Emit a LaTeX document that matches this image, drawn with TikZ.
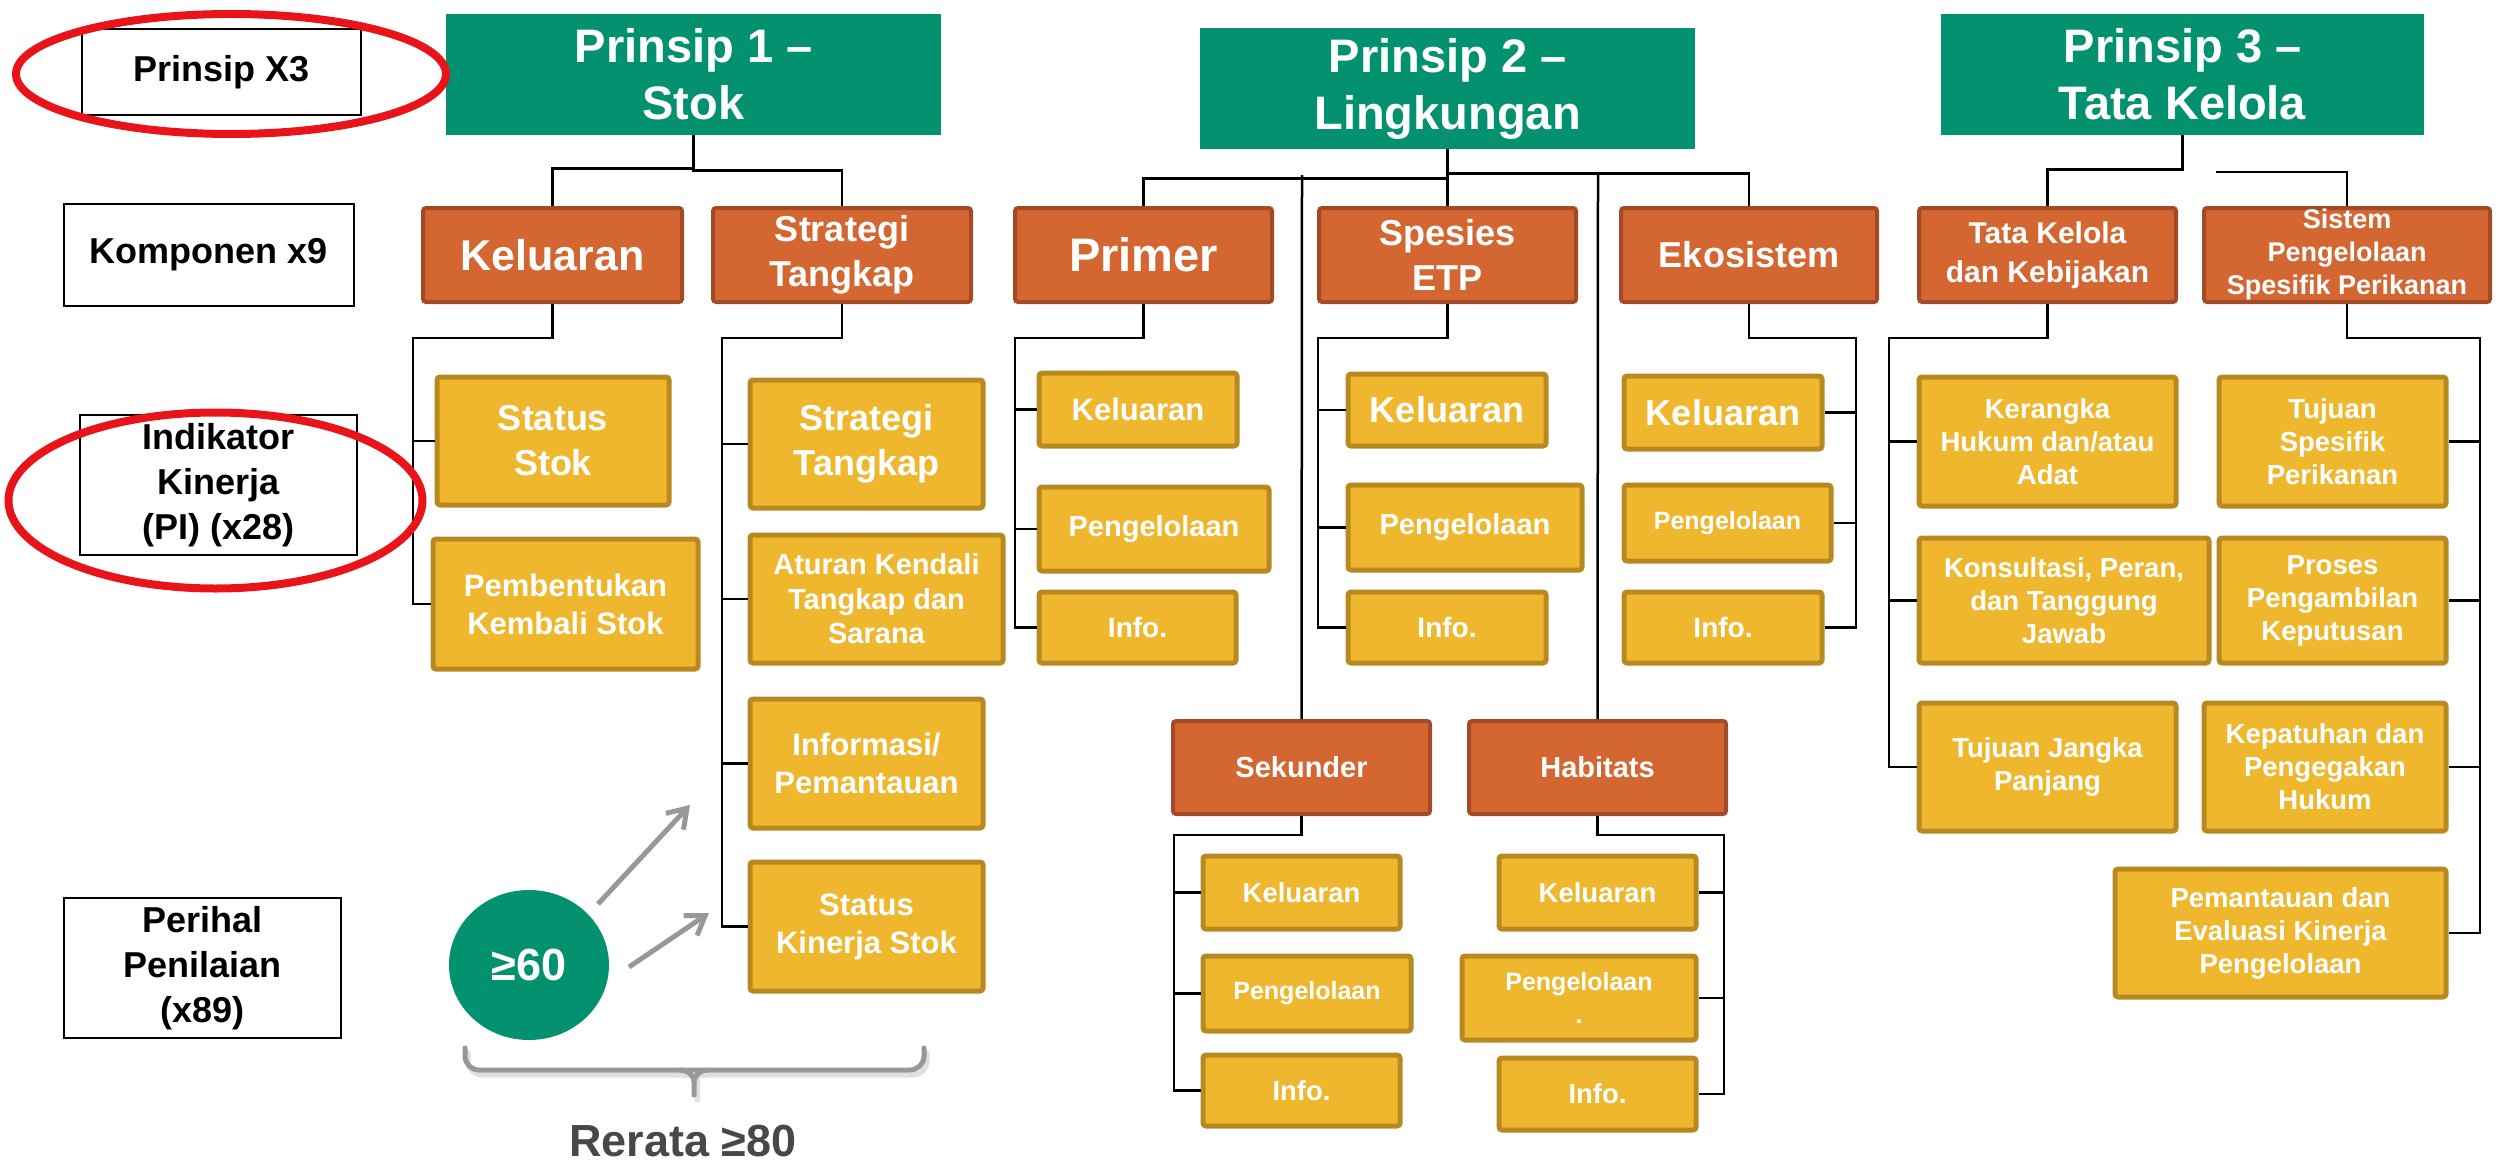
\documentclass[tikz,border=0pt]{standalone}
\usepackage{fontspec}
\setmainfont{Liberation Sans}
\usetikzlibrary{arrows.meta,calc,shapes.geometric}
\definecolor{pgreen}{RGB}{3,145,112}
\definecolor{porange}{RGB}{212,102,50}
\definecolor{porangeD}{RGB}{163,75,38}
\definecolor{pyellow}{RGB}{239,183,46}
\definecolor{pyellowD}{RGB}{184,137,32}
\definecolor{pred}{RGB}{232,20,26}
\definecolor{pgray}{RGB}{152,152,152}
\definecolor{ptext}{RGB}{72,72,72}
\newcommand\mkbox[7]{\node[#2,minimum width={(#5-#3-4)*0.5pt},minimum height={(#6-#4-4)*0.5pt}] (#1) at ({(#3+#5)/2},{(#4+#6)/2}) {#7};}
\begin{document}
\begin{tikzpicture}[x=0.5pt,y=-0.5pt,
  base/.style={align=center,inner sep=0pt,text=white},
  green/.style={base,fill=pgreen,font=\bfseries\fontsize{23.5pt}{28.5pt}\selectfont},
  orng/.style={base,fill=porange,draw=porangeD,line width=2pt,rounded corners=1.5pt},
  yel/.style={base,fill=pyellow,draw=pyellowD,line width=2.5pt,rounded corners=1.5pt},
  lab/.style={align=center,inner sep=0pt,fill=white,draw=black,line width=1pt,text=black,font=\bfseries\fontsize{18pt}{22.5pt}\selectfont},
  fA/.style={font=\bfseries\fontsize{23.5pt}{28pt}\selectfont},
  fB/.style={font=\bfseries\fontsize{21.5pt}{26pt}\selectfont},
  fC/.style={font=\bfseries\fontsize{18pt}{22.5pt}\selectfont},
  fD/.style={font=\bfseries\fontsize{15.5pt}{19pt}\selectfont},
  fE/.style={font=\bfseries\fontsize{15pt}{19.5pt}\selectfont},
  fF/.style={font=\bfseries\fontsize{14.5pt}{17.25pt}\selectfont},
  fG/.style={font=\bfseries\fontsize{14pt}{16.5pt}\selectfont},
  fH/.style={font=\bfseries\fontsize{13.75pt}{16.5pt}\selectfont},
  fI/.style={font=\bfseries\fontsize{13.5pt}{16.5pt}\selectfont},
  fJ/.style={font=\bfseries\fontsize{12.5pt}{16.5pt}\selectfont},
  conn/.style={draw=black,line width=1.25pt},
  ringred/.style={draw=pred,line width=4pt},
  garrow/.style={draw=pgray,line width=2.5pt,-{Straight Barb[length=9pt,width=12pt]}},
  brace/.style={draw=pgray,line width=2.5pt,line cap=round}]
\useasboundingbox (0,0) rectangle (2509,1161);

% ---- left labels
\mkbox{lab1}{lab}{80}{27}{363}{117}{Prinsip X3}
\mkbox{lab2}{lab}{62}{202}{356}{308}{Komponen x9}
\mkbox{lab3}{lab}{78}{413}{359}{557}{Indikator\\Kinerja\\(PI) (x28)}
\mkbox{lab4}{lab}{62}{896}{343}{1040}{Perihal\\Penilaian\\(x89)}

% ---- principles
\mkbox{p1}{green}{444}{12}{943}{137}{Prinsip 1 –\\Stok}
\mkbox{p2}{green}{1198}{26}{1697}{151}{Prinsip 2 –\\Lingkungan}
\mkbox{p3}{green}{1939}{12}{2426}{137}{Prinsip 3 –\\Tata Kelola}

% ---- components
\mkbox{okel}{orng,fB}{421}{206}{684}{304}{Keluaran}
\mkbox{ostr}{orng,fC}{711}{206}{973}{304}{Strategi\\Tangkap}
\mkbox{oprim}{orng,fA}{1013}{206}{1274}{304}{Primer}
\mkbox{ospe}{orng,fC}{1317}{206}{1578}{304}{Spesies\\ETP}
\mkbox{oeko}{orng,fC}{1619}{206}{1879}{304}{Ekosistem}
\mkbox{otk}{orng,fE}{1917}{206}{2178}{304}{Tata Kelola\\dan Kebijakan}
\mkbox{osis}{orng,fI}{2202}{206}{2492}{304}{Sistem\\Pengelolaan\\Spesifik Perikanan}
\mkbox{osek}{orng,fF}{1171}{719}{1432}{816}{Sekunder}
\mkbox{ohab}{orng,fF}{1467}{719}{1728}{816}{Habitats}

% ---- P1 indicators
\mkbox{ys1}{yel,fC}{435}{375}{671}{507}{Status\\Stok}
\mkbox{ys2}{yel,fD}{431}{537}{700}{671}{Pembentukan\\Kembali Stok}
\mkbox{ys3}{yel,fC}{748}{378}{985}{510}{Strategi\\Tangkap}
\mkbox{ys4}{yel,fF}{748}{533}{1005}{665}{Aturan Kendali\\Tangkap dan\\Sarana}
\mkbox{ys5}{yel,fD}{748}{697}{985}{830}{Informasi/\\Pemantauan}
\mkbox{ys6}{yel,fD}{748}{860}{985}{993}{Status\\Kinerja Stok}

% ---- P2 indicators
\mkbox{yp1}{yel,fD}{1037}{371}{1239}{448}{Keluaran}
\mkbox{yp2}{yel,fF}{1037}{485}{1271}{573}{Pengelolaan}
\mkbox{yp3}{yel,fG}{1037}{590}{1238}{665}{Info.}
\mkbox{ye1}{yel,fC}{1346}{372}{1548}{448}{Keluaran}
\mkbox{ye2}{yel,fF}{1346}{483}{1584}{572}{Pengelolaan}
\mkbox{ye3}{yel,fG}{1346}{590}{1548}{665}{Info.}
\mkbox{yk1}{yel,fC}{1622}{374}{1824}{451}{Keluaran}
\mkbox{yk2}{yel,fJ}{1622}{483}{1833}{563}{Pengelolaan}
\mkbox{yk3}{yel,fG}{1622}{590}{1824}{665}{Info.}
\mkbox{yc1}{yel,fH}{1201}{854}{1402}{931}{Keluaran}
\mkbox{yc2}{yel,fJ}{1201}{954}{1413}{1033}{Pengelolaan}
\mkbox{yc3}{yel,fH}{1201}{1053}{1402}{1128}{Info.}
\mkbox{yh1}{yel,fH}{1497}{854}{1698}{931}{Keluaran}
\mkbox{yh2}{yel,fJ}{1460}{954}{1698}{1042}{Pengelolaan\\.}
\mkbox{yh3}{yel,fH}{1497}{1056}{1698}{1132}{Info.}

% ---- P3 indicators
\mkbox{yt1}{yel,fH}{1917}{375}{2178}{508}{Kerangka\\Hukum dan/atau\\Adat}
\mkbox{yt2}{yel,fH}{1917}{536}{2211}{665}{Konsultasi, Peran,\\dan Tanggung\\Jawab}
\mkbox{yt3}{yel,fH}{1917}{701}{2178}{833}{Tujuan Jangka\\Panjang}
\mkbox{yq1}{yel,fH}{2217}{375}{2448}{508}{Tujuan\\Spesifik\\Perikanan}
\mkbox{yq2}{yel,fH}{2217}{536}{2448}{665}{Proses\\Pengambilan\\Keputusan}
\mkbox{yq3}{yel,fH}{2202}{701}{2448}{833}{Kepatuhan dan\\Pengegakan\\Hukum}
\mkbox{yq4}{yel,fH}{2113}{867}{2448}{999}{Pemantauan dan\\Evaluasi Kinerja\\Pengelolaan}

% ---- top connectors
\draw[conn] (p1.south) -- ++(0,33) -| (okel.north);
\draw[conn] (p1.south) -- ++(0,35) -| (ostr.north);
\draw[conn] (p2.south) -- ++(0,29) -| (oprim.north);
\draw[conn] (p2.south) -- (ospe.north);
\draw[conn] (p2.south) -- ++(0,24) -| (oeko.north);
\coordinate (sekTop) at (1302,175);
\coordinate (habTop) at (1598,175);
\draw[conn] (sekTop) -- (osek.north);
\draw[conn] (habTop) -- (ohab.north);
\draw[conn] (p3.south) -- ++(0,34) -| (otk.north);
\coordinate (p3r) at (2216,172);
\draw[conn] (p3r) -| (osis.north);

% ---- bracket connectors
\coordinate (bk) at (413,338);
\foreach \c in {ys1,ys2} \draw[conn] (okel.south) |- (bk) |- (\c.west);
\coordinate (bs) at (722,338);
\foreach \c in {ys3,ys4,ys5,ys6} \draw[conn] (ostr.south) |- (bs) |- (\c.west);
\coordinate (bp) at (1015,338);
\foreach \c in {yp1,yp2,yp3} \draw[conn] (oprim.south) |- (bp) |- (\c.west);
\coordinate (be) at (1318,338);
\foreach \c in {ye1,ye2,ye3} \draw[conn] (ospe.south) |- (be) |- (\c.west);
\coordinate (bo) at (1856,338);
\foreach \c in {yk1,yk2,yk3} \draw[conn] (oeko.south) |- (bo) |- (\c.east);
\coordinate (bc) at (1174,835);
\foreach \c in {yc1,yc2,yc3} \draw[conn] (osek.south) |- (bc) |- (\c.west);
\coordinate (bh) at (1724,835);
\foreach \c in {yh1,yh2,yh3} \draw[conn] (ohab.south) |- (bh) |- (\c.east);
\coordinate (bt) at (1889,338);
\foreach \c in {yt1,yt2,yt3} \draw[conn] (otk.south) |- (bt) |- (\c.west);
\coordinate (bq) at (2480,338);
\foreach \c in {yq1,yq2,yq3,yq4} \draw[conn] (osis.south) |- (bq) |- (\c.east);

% ---- score circle and arrows
\node[ellipse,fill=pgreen,minimum width=80pt,minimum height=75pt,inner sep=0pt,text=white,
  font=\bfseries\fontsize{22.5pt}{26pt}\selectfont] (circ) at (529,965) {≥60};
\draw[garrow] (circ) ++(69,-61) -- ++(92,-99);
\draw[garrow] (circ) ++(100,2) -- ++(80,-54);

% ---- brace
\begin{scope}[shift={(3,5)}]
\draw[brace,draw=gray!25,rounded corners=7pt] (465,1048) -- (465,1070) -- (924,1070) -- (924,1048);
\draw[brace,draw=gray!25] (694,1072) -- (694,1095);
\end{scope}
\draw[brace,rounded corners=7pt] (465,1048) -- (465,1070) -- (924,1070) -- (924,1048);
\draw[brace] (680,1070) to[out=0,in=90] (694,1082) -- (694,1095);
\draw[brace] (708,1070) to[out=180,in=90] (694,1082);
\coordinate (braceTip) at (694,1095);
\node[anchor=base,inner sep=0pt,text=ptext,font=\bfseries\fontsize{22.5pt}{26pt}\selectfont] (rerata) at (683,1156) {Rerata ≥80};

% ---- red rings
\draw[ringred] (231,74) ellipse [x radius=215, y radius=60];
\draw[ringred] (215.5,500.5) ellipse [x radius=207, y radius=88];
\end{tikzpicture}
\end{document}
